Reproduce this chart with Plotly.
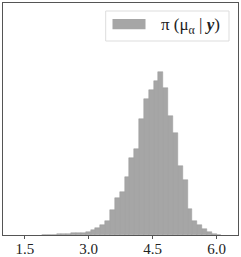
import plotly.graph_objects as go

# Histogram of posterior samples (density per bin)
bin_start = 1.906
bin_width = 0.1137
density = [0.0005, 0.0010, 0.0027, 0.0032, 0.0043, 0.0054, 0.0091, 0.0107, 0.0118, 0.0177,
           0.0284, 0.0376, 0.0537, 0.0751, 0.1325, 0.1969, 0.2323, 0.3096, 0.4115, 0.4614,
           0.6223, 0.7296, 0.7779, 0.8262, 0.8761, 0.7870, 0.6384, 0.5456, 0.3702, 0.2951,
           0.1411, 0.0767, 0.0537, 0.0306, 0.0161, 0.0043, 0.0016]
tick_vals = [1.5, 3.0, 4.5, 6.0]
tick_text = ["1.5", "3.0", "4.5", "6.0"]
legend_label = "π (μ<sub>α</sub> | <b><i>y</i></b>)"

centers = [bin_start + bin_width * (i + 0.5) for i in range(len(density))]

fig = go.Figure()
fig.add_trace(go.Bar(
    x=centers, y=density, width=[bin_width] * len(density),
    marker=dict(color="#a6a6a6", line=dict(color="#999999", width=0.5)),
    showlegend=False,
))

FRAME = "#555555"
fig.update_layout(
    width=241, height=257,
    margin=dict(l=3, r=3, t=3, b=22, autoexpand=False),
    plot_bgcolor="white", paper_bgcolor="white",
    bargap=0,
    font=dict(family="Liberation Serif, DejaVu Serif, serif", size=15, color="#222222"),
    xaxis=dict(range=[0.99, 6.5], tickvals=tick_vals, ticktext=tick_text,
               showgrid=False, zeroline=False, showline=True, mirror=True,
               linecolor=FRAME, linewidth=1, ticks="outside", ticklen=3,
               tickcolor=FRAME, tickfont=dict(size=15), automargin=False,
               ticklabelstandoff=-3),
    yaxis=dict(range=[0, 1.2447], showticklabels=False, showgrid=False,
               zeroline=False, showline=True, mirror=True, linecolor=FRAME,
               linewidth=1, ticks="", automargin=False),
)

# Legend drawn manually (matplotlib-style box with wide patch)
def px_x(p):
    return (p - 3) / 235.0

def px_y(p):
    return (235 - p) / 232.0

fig.add_shape(type="rect", xref="paper", yref="paper",
              x0=px_x(105.7), x1=px_x(229), y0=px_y(41), y1=px_y(11),
              line=dict(color="#dddddd", width=1), fillcolor="rgba(255,255,255,0.8)")
fig.add_shape(type="rect", xref="paper", yref="paper",
              x0=px_x(112.5), x1=px_x(145.5), y0=px_y(29.3), y1=px_y(19),
              line=dict(width=0), fillcolor="#a6a6a6")
fig.add_annotation(xref="paper", yref="paper", x=px_x(190), y=px_y(26),
                   text=legend_label, showarrow=False, xanchor="center", yanchor="middle",
                   font=dict(size=17, color="#222222"))

fig.write_html("out.html", config={"displayModeBar": False},
               post_script="document.body.style.margin='0';")
